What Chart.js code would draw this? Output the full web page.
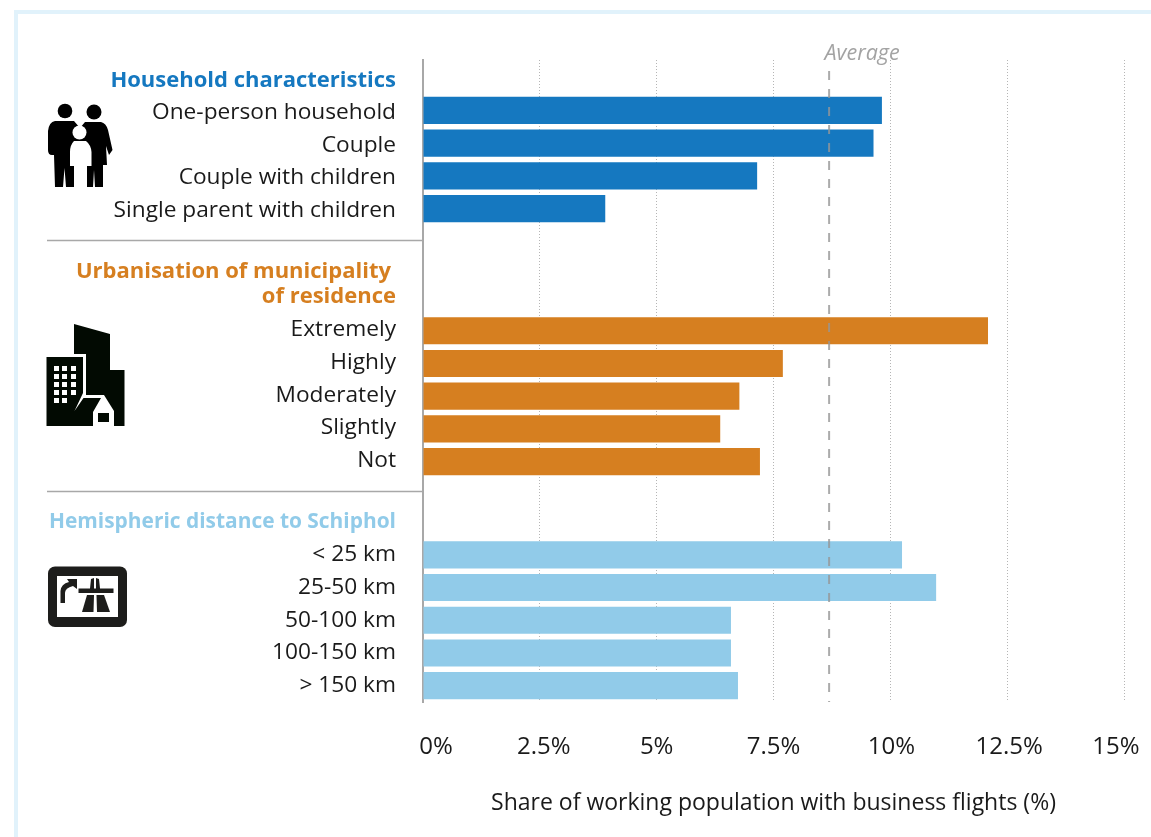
<!DOCTYPE html>
<html>
<head>
<meta charset="utf-8">
<title>Business flights</title>
<script src="https://cdn.jsdelivr.net/npm/chart.js@4"></script>
<style>
    html, body { margin: 0; padding: 0; background: #fff; overflow: hidden; }
    #wrap { position: relative; width: 1151px; height: 837px; }
    #frame { position: absolute; left: 14px; top: 10px; width: 1160px; height: 860px; border: 4px solid #e1f2fb; box-sizing: border-box; }
    canvas { position: absolute; left: 0; top: 0; }
    #icons { position: absolute; left: 0; top: 0; pointer-events: none; }
</style>
</head>
<body>
<div id="wrap">
    <div id="frame"></div>
    <canvas id="grafico" width="1151" height="837"></canvas>
    <svg id="icons" width="1151" height="837">
        <!-- family -->
        <g fill="#000">
            <circle cx="65" cy="111" r="7.3"/>
            <circle cx="94" cy="112" r="7.5"/>
            <path d="M55 121H74L80 128V166H74V187H66L64.500 168L63 187H55L54 155L52 155Q48 155 48 150V131Q49 122 55 121Z"/>
            <path d="M85 122H101Q106 123 108 130L112.500 150L109 155L106 146L107 165H103V187H95L94 170L93 187H87V165H80V128Z"/>
        </g>
        <g fill="#fff">
            <circle cx="79.500" cy="132.500" r="7"/>
            <path d="M74 141H86Q91 145 91.500 152V166H86V188H74V166H70V152Q70 145 74 141Z"/>
        </g>
        <!-- city -->
        <g fill="#020a02">
            <path d="M74 324L110 334V370H124.500V426H114V411L104 395H86V354H74Z"/>
            <path d="M46.500 357H83V393L74.500 411L83.500 398H101L93 412V426H46.500Z"/>
            <rect x="98" y="413" width="11" height="9"/>
        </g>
        <g fill="#fff">
            <rect x="54" y="366" width="5" height="5"/><rect x="62" y="366" width="5" height="5"/><rect x="71" y="366" width="5" height="5"/>
            <rect x="54" y="374" width="5" height="5"/><rect x="62" y="374" width="5" height="5"/><rect x="71" y="374" width="5" height="5"/>
            <rect x="54" y="382" width="5" height="5"/><rect x="62" y="382" width="5" height="5"/><rect x="71" y="382" width="5" height="5"/>
            <rect x="54" y="390" width="5" height="5"/><rect x="62" y="390" width="5" height="5"/><rect x="71" y="390" width="5" height="5"/>
            <rect x="54" y="398" width="5" height="5"/><rect x="62" y="398" width="5" height="5"/>
        </g>
        <!-- route sign -->
        <rect x="48" y="566.500" width="79" height="60.500" rx="7" fill="#1d1d1b"/>
        <rect x="57" y="576" width="61" height="41" fill="#fff"/>
        <g fill="#1d1d1b">
            <path d="M60.500 603V591Q61 584 69 582L67 579H77V589L73 586Q65 588 65 593V603Z"/>
            <path d="M78.500 588.500H90L91 579L94 578V588.500H96V578L99 579L100 588.500H113.500V593H78.500Z"/>
            <path d="M82 612L87 595H94L93.500 612Z"/>
            <path d="M97 612L96.500 595H104L110 612Z"/>
        </g>
    </svg>
</div>

<script>
    // Dados
    const householdLabels = ["One-person household", "Couple", "Couple with children", "Single parent with children"];
    const householdValues = [9.82, 9.64, 7.15, 3.9];

    const urbanLabels = ["Extremely", "Highly", "Moderately", "Slightly", "Not"];
    const urbanValues = [12.09, 7.7, 6.77, 6.36, 7.21];

    const distanceLabels = ["< 25 km", "25-50 km", "50-100 km", "100-150 km", "> 150 km"];
    const distanceValues = [10.25, 10.98, 6.59, 6.59, 6.74];

    const xTicks = [0, 2.5, 5, 7.5, 10, 12.5, 15];
    const averageValue = 8.69;

    const BLUE = "#1578c0";
    const ORANGE = "#d67f20";
    const LIGHT = "#91cbe9";
    const GREY = "#a3a3a3";
    const FONT = "'Open Sans', sans-serif";

    // os rótulos do eixo x não ficam centrados nas linhas no original
    const xLabelShift = [13, 4, 0, 0, 1, 2, -8];

    const axisBorder = { display: true, color: "#a8a8a8", width: 2 };

    function setWidth(scale) {
        scale.width = 423;
    }

    function spacerAxis(weight) {
        return {
            type: "linear",
            position: "left",
            stack: "grupos",
            stackWeight: weight,
            grid: { display: false },
            border: axisBorder,
            ticks: { display: false },
            afterFit: setWidth,
        };
    }

    function groupAxis(labels, weight, labelOffset) {
        return {
            type: "category",
            labels: labels,
            position: "left",
            stack: "grupos",
            stackWeight: weight,
            grid: { display: false, drawTicks: false },
            border: axisBorder,
            ticks: { color: "#1a1a1a", font: { family: FONT, size: 22.7 }, padding: 27, labelOffset: labelOffset, autoSkip: false },
            afterFit: setWidth,
        };
    }

    function groupDataset(label, values, color, axisId) {
        return {
            label: label,
            data: values,
            backgroundColor: color,
            yAxisID: axisId,
            grouped: false,
            barPercentage: 0.83,
            categoryPercentage: 1,
        };
    }

    // Cabeçalhos, separadores e linha da média
    const decoracao = {
        id: "decoracao",
        afterUpdate(chart) {
            const items = chart.scales.x.getLabelItems(chart.chartArea);
            items.forEach(function (item, i) {
                item.options.translation[0] += xLabelShift[i];
            });
        },
        afterDraw(chart) {
            const ctx = chart.ctx;
            ctx.save();

            ctx.strokeStyle = "#a8a8a8";
            ctx.lineWidth = 1.5;
            [240.5, 491.5].forEach(function (y) {
                ctx.beginPath();
                ctx.moveTo(47, y);
                ctx.lineTo(422, y);
                ctx.stroke();
            });

            ctx.textAlign = "right";
            ctx.textBaseline = "middle";
            ctx.font = "bold 22px " + FONT;
            ctx.fillStyle = BLUE;
            ctx.fillText("Household characteristics", 396, 81);
            ctx.fillStyle = ORANGE;
            ctx.fillText("Urbanisation of municipality", 391, 272);
            ctx.fillText("of residence", 396, 297);
            ctx.fillStyle = LIGHT;
            ctx.fillText("Hemispheric distance to Schiphol", 396, 522, 347);

            const x = chart.scales.x.getPixelForValue(averageValue);
            ctx.strokeStyle = "rgba(150,150,150,0.8)";
            ctx.lineWidth = 2;
            ctx.setLineDash([9, 9]);
            ctx.beginPath();
            ctx.moveTo(x, 71);
            ctx.lineTo(x, chart.chartArea.bottom);
            ctx.stroke();
            ctx.setLineDash([]);

            ctx.textAlign = "center";
            ctx.font = "italic 21.500px " + FONT;
            ctx.fillStyle = GREY;
            ctx.fillText("Average", x + 33, 54);
            ctx.restore();
        },
    };

    const ctx = document.getElementById("grafico").getContext("2d");
    new Chart(ctx, {
        type: "bar",
        data: {
            datasets: [
                groupDataset("Household characteristics", householdValues, BLUE, "yHousehold"),
                groupDataset("Urbanisation of municipality of residence", urbanValues, ORANGE, "yUrban"),
                groupDataset("Hemispheric distance to Schiphol", distanceValues, LIGHT, "yDistance"),
            ],
        },
        options: {
            indexAxis: "y",
            responsive: false,
            animation: false,
            events: [],
            layout: { padding: { top: 60, right: 27, bottom: 0, left: 0 } },
            plugins: { legend: { display: false }, tooltip: { enabled: false } },
            scales: {
                yDistance: groupAxis(distanceLabels, 163.6, 0),
                yGap2: spacerAxis(60.6),
                yUrban: groupAxis(urbanLabels, 163.6, -1),
                yGap1: spacerAxis(89.4),
                yHousehold: groupAxis(householdLabels, 131.2, 2),
                yTop: spacerAxis(34),
                x: {
                    type: "linear",
                    min: 0,
                    max: 15,
                    afterBuildTicks(scale) {
                        scale.ticks = xTicks.map(function (v) { return { value: v }; });
                    },
                    afterFit(scale) {
                        scale.height = 135;
                        scale.paddingLeft = 0;
                        scale.paddingRight = 0;
                    },
                    grid: { color: "#b5b5b5", lineWidth: 1, drawTicks: false },
                    border: { display: false, dash: [1, 2] },
                    ticks: {
                        color: "#1a1a1a",
                        font: { family: FONT, size: 24 },
                        padding: 31,
                        maxRotation: 0,
                        autoSkip: false,
                        callback: function (v) { return v + "%"; },
                    },
                    title: {
                        display: true,
                        text: "Share of working population with business flights (%)",
                        color: "#1a1a1a",
                        font: { family: FONT, size: 23 },
                        padding: { top: 0, bottom: 20 },
                    },
                },
            },
        },
        plugins: [decoracao],
    });
</script>
</body>
</html>
